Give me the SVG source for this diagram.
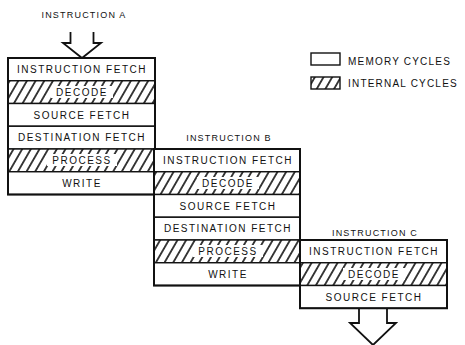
<svg xmlns="http://www.w3.org/2000/svg" width="465" height="345" viewBox="0 0 465 345">
<style>
.row{fill:#fff;stroke:#111;stroke-width:1.4}
.hrow{fill:url(#hatch);stroke:#111;stroke-width:1.4}
.outer{fill:none;stroke:#111;stroke-width:2}
.patch{fill:#fff;stroke:none}
.t{font-family:"Liberation Sans",Arial,sans-serif;font-size:10px;letter-spacing:1.5px;fill:#111;text-anchor:middle}
.lbl{font-family:"Liberation Sans",Arial,sans-serif;font-size:9px;letter-spacing:1.2px;fill:#111;text-anchor:middle}
.leg{font-family:"Liberation Sans",Arial,sans-serif;font-size:10px;letter-spacing:1.2px;fill:#111}
.arrow{fill:#fff;stroke:#111;stroke-width:1.8;stroke-linejoin:miter}
</style>
<defs>
<pattern id="hatch" patternUnits="userSpaceOnUse" width="7.5" height="7.5" patternTransform="rotate(30)">
<rect width="7.5" height="7.5" fill="#fff"/>
<line x1="3.75" y1="0" x2="3.75" y2="7.5" stroke="#111" stroke-width="1.6"/>
</pattern>
</defs>
<rect width="465" height="345" fill="#fff"/>

<g id="legend">
<rect x="311" y="53" width="29" height="12" class="row"/>
<text x="348" y="65" class="leg">MEMORY CYCLES</text>
<rect x="311" y="77" width="29" height="12" class="hrow"/>
<text x="348" y="87" class="leg">INTERNAL CYCLES</text>
</g>

<g id="connectors">
<polyline class="arrow" points="70.5,32 70.5,43 63,43 82,58 101,43 93.5,43 93.5,32"/>
<polyline class="arrow" points="359,308.25 359,323 350,323 373,345 396,323 387,323 387,308.25"/>
</g>

<g id="instrA">
<text x="84" y="18" class="lbl">INSTRUCTION A</text>
<rect x="8" y="58" width="147" height="22.75" class="row"/>
<text x="82" y="73" class="t">INSTRUCTION FETCH</text>
<rect x="8" y="80.75" width="147" height="22.75" class="hrow"/>
<rect x="51" y="86" width="62" height="12" class="patch"/>
<text x="82" y="95.7" class="t">DECODE</text>
<rect x="8" y="103.5" width="147" height="22.75" class="row"/>
<text x="82" y="118.5" class="t">SOURCE FETCH</text>
<rect x="8" y="126.25" width="147" height="22.75" class="row"/>
<text x="82" y="141.2" class="t">DESTINATION FETCH</text>
<rect x="8" y="149" width="147" height="22.75" class="hrow"/>
<rect x="47" y="154" width="70" height="12" class="patch"/>
<text x="82" y="164" class="t">PROCESS</text>
<rect x="8" y="171.75" width="147" height="22.75" class="row"/>
<text x="82" y="186.7" class="t">WRITE</text>
<rect x="8" y="58" width="147" height="136.5" class="outer"/>
</g>

<g id="instrB">
<text x="229" y="141" class="lbl">INSTRUCTION B</text>
<rect x="154" y="149" width="146" height="22.75" class="row"/>
<text x="228" y="164" class="t">INSTRUCTION FETCH</text>
<rect x="154" y="171.75" width="146" height="22.75" class="hrow"/>
<rect x="197" y="177" width="62" height="12" class="patch"/>
<text x="228" y="186.7" class="t">DECODE</text>
<rect x="154" y="194.5" width="146" height="22.75" class="row"/>
<text x="228" y="209.5" class="t">SOURCE FETCH</text>
<rect x="154" y="217.25" width="146" height="22.75" class="row"/>
<text x="228" y="232.2" class="t">DESTINATION FETCH</text>
<rect x="154" y="240" width="146" height="22.75" class="hrow"/>
<rect x="193" y="245" width="70" height="12" class="patch"/>
<text x="228" y="255" class="t">PROCESS</text>
<rect x="154" y="262.75" width="146" height="22.75" class="row"/>
<text x="228" y="277.7" class="t">WRITE</text>
<rect x="154" y="149" width="146" height="136.5" class="outer"/>
</g>

<g id="instrC">
<text x="375" y="236" class="lbl">INSTRUCTION C</text>
<rect x="300" y="240" width="147" height="22.75" class="row"/>
<text x="374" y="255" class="t">INSTRUCTION FETCH</text>
<rect x="300" y="262.75" width="147" height="22.75" class="hrow"/>
<rect x="343" y="268" width="62" height="12" class="patch"/>
<text x="374" y="277.7" class="t">DECODE</text>
<rect x="300" y="285.5" width="147" height="22.75" class="row"/>
<text x="374" y="300.5" class="t">SOURCE FETCH</text>
<rect x="300" y="240" width="147" height="68.25" class="outer"/>
</g>
</svg>
